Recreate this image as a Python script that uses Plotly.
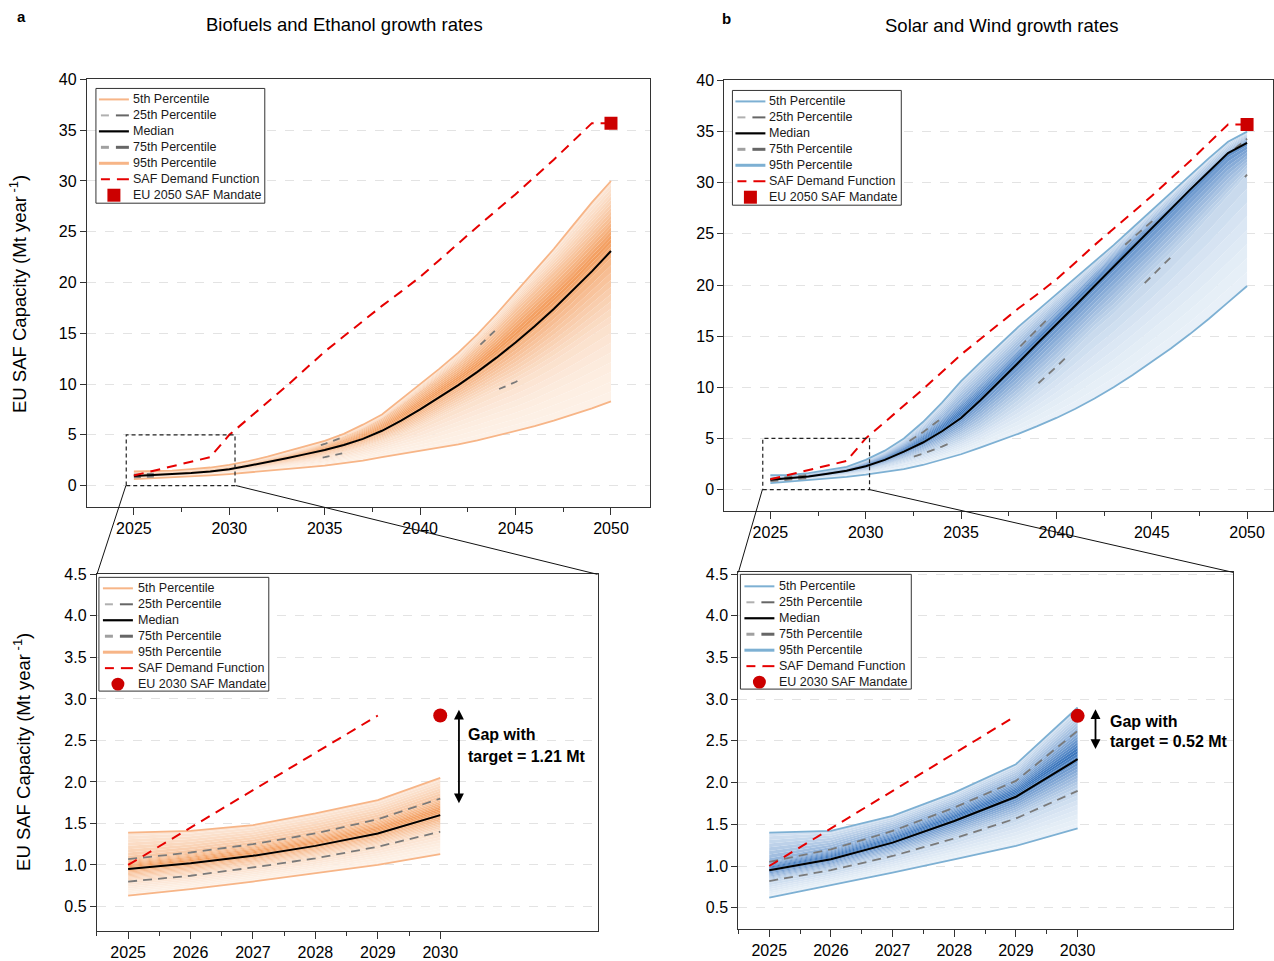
import plotly.graph_objects as go

W, H = 1274, 961

# ---------------- data ----------------
years = list(range(2025, 2051))
n_zoom = 6  # 2025..2030 shown in the zoomed panels

bio_p5 = [0.63, 0.71, 0.80, 0.90, 1.00, 1.13, 1.28, 1.45, 1.62, 1.80, 1.97, 2.20, 2.45, 2.80, 3.10,
          3.38, 3.70, 4.05, 4.45, 4.90, 5.35, 5.85, 6.40, 7.00, 7.60, 8.30]
bio_p25 = [0.80, 0.87, 0.97, 1.08, 1.22, 1.40, 1.62, 1.88, 2.15, 2.45, 2.80, 3.20, 3.70, 4.30, 5.00,
           5.80, 6.70, 7.60, 8.50, 9.40, 10.2, 11.2, 12.3, 13.5, 14.8, 16.0]
bio_p50 = [0.95, 1.02, 1.11, 1.23, 1.38, 1.60, 1.95, 2.30, 2.70, 3.10, 3.50, 4.00, 4.60, 5.40, 6.40,
           7.50, 8.70, 9.90, 11.2, 12.6, 14.1, 15.7, 17.4, 19.2, 21.1, 23.1]
bio_p75 = [1.07, 1.15, 1.25, 1.38, 1.55, 1.80, 2.15, 2.55, 3.00, 3.50, 4.10, 4.80, 5.60, 6.60, 7.90,
           9.30, 10.6, 12.0, 13.6, 15.4, 17.4, 19.2, 21.0, 22.9, 24.9, 27.0]
bio_p95 = [1.39, 1.41, 1.48, 1.62, 1.78, 2.05, 2.40, 2.85, 3.35, 3.85, 4.40, 5.10, 6.00, 7.00, 8.50,
           10.0, 11.5, 13.1, 14.9, 16.9, 19.0, 21.1, 23.3, 25.6, 27.9, 30.0]

sw_p5 = [0.62, 0.77, 0.92, 1.08, 1.24, 1.45, 1.70, 2.00, 2.40, 2.90, 3.45, 4.10, 4.75, 5.45, 6.20,
         7.00, 7.90, 8.90, 10.0, 11.2, 12.5, 13.8, 15.2, 16.7, 18.3, 19.9]
sw_p25 = [0.82, 0.95, 1.12, 1.33, 1.57, 1.90, 2.35, 2.90, 3.50, 4.20, 5.00, 6.00, 7.30, 8.70, 10.3,
          12.0, 13.8, 15.6, 17.2, 19.0, 20.8, 22.7, 24.6, 26.6, 28.7, 30.8]
sw_p50 = [0.95, 1.08, 1.28, 1.54, 1.83, 2.28, 2.90, 3.70, 4.60, 5.70, 7.00, 8.70, 10.5, 12.4, 14.3,
          16.1, 18.0, 19.9, 21.8, 23.7, 25.5, 27.4, 29.3, 31.1, 32.9, 33.9]
sw_p75 = [1.05, 1.20, 1.42, 1.70, 2.02, 2.62, 3.40, 4.40, 5.60, 7.00, 8.70, 10.3, 12.0, 13.8, 15.7,
          17.5, 19.4, 21.2, 22.9, 24.6, 26.2, 27.8, 29.5, 31.2, 32.8, 34.3]
sw_p95 = [1.40, 1.42, 1.60, 1.88, 2.22, 2.90, 3.80, 5.00, 6.60, 8.50, 10.6, 12.4, 14.2, 15.9, 17.5,
          19.1, 20.7, 22.3, 23.9, 25.6, 27.3, 29.0, 30.7, 32.4, 34.0, 35.0]

saf_demand = [1.00, 1.45, 1.90, 2.35, 2.80, 5.00, 6.60, 8.20, 9.80, 11.5, 13.2, 14.7, 16.2, 17.7, 19.1,
              20.55, 22.2, 23.9, 25.5, 27.1, 28.7, 30.4, 32.1, 33.9, 35.7, 35.7]
n_demand_zoom = 5  # zoomed panels show the demand function up to 2029

mandate_2050_year, mandate_2050 = 2050, 35.7
mandate_2030_year, mandate_2030 = 2030, 2.8
gap_bio = 1.21
gap_sw = 0.52

legend_labels = ["5th Percentile", "25th Percentile", "Median", "75th Percentile",
                 "95th Percentile", "SAF Demand Function"]

# ---------------- style ----------------
FONT = "Liberation Sans, Arial, sans-serif"
RED = "#E60000"
MARK = "#CC0000"
GRAY = "#7a7a7a"
ORANGE_LINE = "#F7B587"
BLUE_LINE = "#7DB0D3"
ORANGE_LIGHT, ORANGE_DARK = (253, 241, 231), (243, 156, 92)
BLUE_LIGHT, BLUE_DARK = (232, 240, 248), (55, 115, 188)

# vertical calibration of the rendered page
YOFF, YS = 9.37, 0.9866


def pxx(x):
    return x / W


def pxy(y):
    return 1 - ((y - YOFF) / YS) / H


def blend(c0, c1, t):
    return "rgb(%d,%d,%d)" % tuple(round(a + (b - a) * t) for a, b in zip(c0, c1))


def band_curves(p5, p25, p50, p75, p95):
    levels = [5, 25, 50, 75, 95]
    series = [p5, p25, p50, p75, p95]
    curves = []
    for k in range(37):
        p = 5 + 2.5 * k
        if p < 25:
            i = 0
        elif p < 50:
            i = 1
        elif p < 75:
            i = 2
        else:
            i = 3
        lo, hi = series[i], series[i + 1]
        t = (p - levels[i]) / (levels[i + 1] - levels[i])
        curves.append((p, [a + (b - a) * t for a, b in zip(lo, hi)]))
    return curves


fig = go.Figure()


def add_panel(xa, ya, x, p5, p25, p50, p75, p95, light, dark, linecol, dash_iqr, zoom, demand_n):
    curves = band_curves(p5, p25, p50, p75, p95)
    for k, (p, c) in enumerate(curves):
        if k == 0:
            fig.add_trace(go.Scatter(x=x, y=c, mode="lines", line=dict(width=0), showlegend=False,
                                     hoverinfo="skip", xaxis=xa, yaxis=ya))
        else:
            mid = p - 1.25
            t = max(0.0, 1 - abs(mid - 57) / 52)
            fig.add_trace(go.Scatter(x=x, y=c, mode="lines", line=dict(width=0), fill="tonexty",
                                     fillcolor=blend(light, dark, t ** 1.7), showlegend=False,
                                     hoverinfo="skip", xaxis=xa, yaxis=ya))
    fig.add_trace(go.Scatter(x=x, y=p5, mode="lines", name="5th Percentile",
                             line=dict(color=linecol, width=1.8), showlegend=False, xaxis=xa, yaxis=ya))
    fig.add_trace(go.Scatter(x=x, y=p95, mode="lines", name="95th Percentile",
                             line=dict(color=linecol, width=1.8), showlegend=False, xaxis=xa, yaxis=ya))
    fig.add_trace(go.Scatter(x=x, y=p25, mode="lines", name="25th Percentile",
                             line=dict(color=GRAY, width=1.8, dash=dash_iqr), showlegend=False,
                             xaxis=xa, yaxis=ya))
    fig.add_trace(go.Scatter(x=x, y=p75, mode="lines", name="75th Percentile",
                             line=dict(color=GRAY, width=1.8, dash=dash_iqr), showlegend=False,
                             xaxis=xa, yaxis=ya))
    fig.add_trace(go.Scatter(x=x, y=p50, mode="lines", name="Median",
                             line=dict(color="black", width=2), showlegend=False, xaxis=xa, yaxis=ya))
    fig.add_trace(go.Scatter(x=years[:demand_n], y=saf_demand[:demand_n], mode="lines",
                             name="SAF Demand Function",
                             line=dict(color=RED, width=2, dash="10px,7px"), showlegend=False,
                             xaxis=xa, yaxis=ya))
    if zoom:
        fig.add_trace(go.Scatter(x=[mandate_2030_year], y=[mandate_2030], mode="markers",
                                 name="EU 2030 SAF Mandate",
                                 marker=dict(symbol="circle", size=14, color=MARK), showlegend=False,
                                 xaxis=xa, yaxis=ya))
    else:
        fig.add_trace(go.Scatter(x=[mandate_2050_year], y=[mandate_2050], mode="markers",
                                 name="EU 2050 SAF Mandate",
                                 marker=dict(symbol="square", size=13, color=MARK), showlegend=False,
                                 xaxis=xa, yaxis=ya))


add_panel("x", "y", years, bio_p5, bio_p25, bio_p50, bio_p75, bio_p95,
          ORANGE_LIGHT, ORANGE_DARK, ORANGE_LINE, "7px,6px,7px,170px", False, len(years))
add_panel("x2", "y2", years, sw_p5, sw_p25, sw_p50, sw_p75, sw_p95,
          BLUE_LIGHT, BLUE_DARK, BLUE_LINE, "8px,6px,8px,6px,8px,110px", False, len(years))
zy = years[:n_zoom]
add_panel("x3", "y3", zy, bio_p5[:n_zoom], bio_p25[:n_zoom], bio_p50[:n_zoom], bio_p75[:n_zoom],
          bio_p95[:n_zoom], ORANGE_LIGHT, ORANGE_DARK, ORANGE_LINE, "9px,6px", True, n_demand_zoom)
add_panel("x4", "y4", zy, sw_p5[:n_zoom], sw_p25[:n_zoom], sw_p50[:n_zoom], sw_p75[:n_zoom],
          sw_p95[:n_zoom], BLUE_LIGHT, BLUE_DARK, BLUE_LINE, "9px,6px", True, n_demand_zoom)

# ---------------- axes ----------------
tickfont = dict(family=FONT, size=16, color="black")


def xaxis_cfg(domain, rng, tickvals, minor_vals):
    return dict(domain=domain, range=rng, tickvals=tickvals, ticktext=[str(v) for v in tickvals],
                ticks="outside", ticklen=7, tickwidth=1.2, tickcolor="#333", showline=True,
                linecolor="#333", linewidth=1.3, mirror=True, showgrid=False, zeroline=False,
                tickfont=tickfont,
                minor=dict(tickvals=minor_vals, ticks="outside", ticklen=4, tickwidth=1.2,
                           tickcolor="#333", showgrid=False))


def yaxis_cfg(domain, rng, tickvals, fmt):
    return dict(domain=domain, range=rng, tickvals=tickvals, ticktext=[fmt % v for v in tickvals],
                ticks="outside", ticklen=6, tickwidth=1.2, tickcolor="#333", showline=True,
                linecolor="#333", linewidth=1.3, mirror=True, showgrid=True, gridcolor="#e3e3e3",
                griddash="dash", gridwidth=1, zeroline=False, tickfont=tickfont)


big_ticks = [2025, 2030, 2035, 2040, 2045, 2050]
big_minor = [2022.5, 2027.5, 2032.5, 2037.5, 2042.5, 2047.5, 2052.5]
small_ticks = [2025, 2026, 2027, 2028, 2029, 2030]
small_minor = [2024.5, 2025.5, 2026.5, 2027.5, 2028.5, 2029.5]

fig.update_layout(
    xaxis=xaxis_cfg([pxx(87), pxx(651)], [2022.54, 2052.07], big_ticks, big_minor) | dict(anchor="y"),
    yaxis=yaxis_cfg([pxy(509), pxy(81)], [-2.06, 40], list(range(0, 41, 5)), "%d") | dict(anchor="x"),
    xaxis2=xaxis_cfg([pxx(725), 1.0], [2022.59, 2051.36], big_ticks, big_minor) | dict(anchor="y2"),
    yaxis2=yaxis_cfg([pxy(513), pxy(82)], [-2.05, 40], list(range(0, 41, 5)), "%d") | dict(anchor="x2"),
    xaxis3=xaxis_cfg([pxx(97), pxx(598)], [2024.5, 2032.52], small_ticks, small_minor) | dict(anchor="y3"),
    yaxis3=yaxis_cfg([pxy(934), pxy(577)], [0.21, 4.5], [0.5 * k for k in range(1, 10)], "%.1f") | dict(anchor="x3"),
    xaxis4=xaxis_cfg([pxx(739), pxx(1234)], [2024.5, 2032.52], small_ticks, small_minor) | dict(anchor="y4"),
    yaxis4=yaxis_cfg([pxy(932), pxy(575)], [0.25, 4.52], [0.5 * k for k in range(1, 10)], "%.1f") | dict(anchor="x4"),
)

shapes = []
annots = []

# zoom rectangles (data coords) and connector lines (paper coords)
shapes.append(dict(type="rect", xref="x", yref="y", x0=2024.6, x1=2030.3, y0=0, y1=5,
                   line=dict(color="#222", width=1.2, dash="4px,3px")))
shapes.append(dict(type="rect", xref="x2", yref="y2", x0=2024.6, x1=2030.2, y0=0, y1=5,
                   line=dict(color="#222", width=1.2, dash="4px,3px")))
for (a, b, c, d) in [(126, 488, 97, 577), (236, 488, 598, 577), (763, 492, 739, 575), (870, 492, 1234, 575)]:
    shapes.append(dict(type="line", xref="paper", yref="paper", x0=pxx(a), y0=pxy(b), x1=pxx(c), y1=pxy(d),
                       line=dict(color="#111", width=1)))


# ---------------- manual legends ----------------
def legend(box, row0, text_x, lx0, lx1, linecol, mandate_label, mandate_kind):
    x0, y0, x1, y1 = box
    shapes.append(dict(type="rect", xref="paper", yref="paper", x0=pxx(x0), x1=pxx(x1), y0=pxy(y1), y1=pxy(y0),
                       line=dict(color="#333", width=1), fillcolor="white", layer="above"))
    rows = [row0 + 16 * i for i in range(7)]
    labels = legend_labels + [mandate_label]
    mid = (lx0 + lx1) / 2

    def seg(xa, xb, y, col, w):
        shapes.append(dict(type="line", xref="paper", yref="paper", x0=pxx(xa), x1=pxx(xb), y0=pxy(y), y1=pxy(y),
                           line=dict(color=col, width=w), layer="above"))

    seg(lx0, lx1, rows[0], linecol, 2)
    seg(lx0 + 2, lx0 + 10, rows[1], "#b0b0b0", 2)
    seg(lx0 + 17, lx1, rows[1], "#666", 2)
    seg(lx0, lx1, rows[2], "black", 2.2)
    seg(lx0 + 2, lx0 + 10, rows[3], "#a0a0a0", 3)
    seg(lx0 + 17, lx1, rows[3], "#666", 3)
    seg(lx0, lx1, rows[4], linecol, 3)
    seg(lx0 + 2, lx0 + 11, rows[5], RED, 2)
    seg(lx0 + 18, lx1, rows[5], RED, 2)
    r = 6.5
    shapes.append(dict(type="circle" if mandate_kind == "circle" else "rect", xref="paper", yref="paper",
                       x0=pxx(mid - r), x1=pxx(mid + r), y0=pxy(rows[6] + r), y1=pxy(rows[6] - r),
                       line=dict(width=0), fillcolor=MARK, layer="above"))
    for lab, ry in zip(labels, rows):
        annots.append(dict(xref="paper", yref="paper", x=pxx(text_x), y=pxy(ry), text=lab, showarrow=False,
                           xanchor="left", yanchor="middle", font=dict(family=FONT, size=12.5, color="#1a1a1a")))


legend((96, 90, 265, 205), 101, 131, 99, 129, ORANGE_LINE, "EU 2050 SAF Mandate", "square")
legend((733, 92, 902, 207), 103, 768, 736, 766, BLUE_LINE, "EU 2050 SAF Mandate", "square")
legend((99, 580, 269, 694), 591, 136, 103, 133, ORANGE_LINE, "EU 2030 SAF Mandate", "circle")
legend((741, 577, 912, 692), 589, 778, 745, 775, BLUE_LINE, "EU 2030 SAF Mandate", "circle")

# ---------------- gap arrows & text ----------------
for xa, ya, xv, ytop, ybot in [("x3", "y3", 2030.3, 2.87, 2.87 - gap_bio - 0.02),
                               ("x4", "y4", 2030.29, 2.88, 2.88 - gap_sw - 0.06)]:
    annots.append(dict(xref=xa, yref=ya, axref=xa, ayref=ya, x=xv, y=ytop, ax=xv, ay=ybot, text=" ",
                       showarrow=True, arrowhead=2, arrowside="end+start", arrowsize=1.1, arrowwidth=1.8,
                       arrowcolor="black", startarrowhead=2, startarrowsize=1.1))

bold16 = dict(family=FONT, size=16, color="black")
annots += [
    dict(xref="paper", yref="paper", x=pxx(466), y=pxy(738), text="<b>Gap with</b>", showarrow=False,
         xanchor="left", yanchor="middle", font=bold16),
    dict(xref="paper", yref="paper", x=pxx(466), y=pxy(760), text="<b>target = %.2f Mt</b>" % gap_bio,
         showarrow=False, xanchor="left", yanchor="middle", font=bold16),
    dict(xref="paper", yref="paper", x=pxx(1109), y=pxy(724), text="<b>Gap with</b>", showarrow=False,
         xanchor="left", yanchor="middle", font=bold16),
    dict(xref="paper", yref="paper", x=pxx(1109), y=pxy(745), text="<b>target = %.2f Mt</b>" % gap_sw,
         showarrow=False, xanchor="left", yanchor="middle", font=bold16),
]

# titles, panel letters, y titles
title_font = dict(family=FONT, size=18.5, color="black")
annots += [
    dict(xref="paper", yref="paper", x=pxx(345), y=pxy(26), text="Biofuels and Ethanol growth rates",
         showarrow=False, xanchor="center", yanchor="middle", font=title_font),
    dict(xref="paper", yref="paper", x=pxx(1002), y=pxy(27), text="Solar and Wind growth rates",
         showarrow=False, xanchor="center", yanchor="middle", font=title_font),
    dict(xref="paper", yref="paper", x=pxx(22), y=pxy(18), text="<b>a</b>", showarrow=False,
         xanchor="center", yanchor="middle", font=dict(family=FONT, size=15, color="black")),
    dict(xref="paper", yref="paper", x=pxx(727), y=pxy(20), text="<b>b</b>", showarrow=False,
         xanchor="center", yanchor="middle", font=dict(family=FONT, size=15, color="black")),
    dict(xref="paper", yref="paper", x=pxx(18), y=pxy(296), text="EU SAF Capacity (Mt year<sup> -1</sup>)",
         textangle=-90, showarrow=False, xanchor="center", yanchor="middle", font=title_font),
    dict(xref="paper", yref="paper", x=pxx(22), y=pxy(755), text="EU SAF Capacity (Mt year<sup> -1</sup>)",
         textangle=-90, showarrow=False, xanchor="center", yanchor="middle", font=title_font),
]

fig.update_layout(
    width=W, height=H, margin=dict(l=0, r=0, t=0, b=0),
    paper_bgcolor="white", plot_bgcolor="white", showlegend=False,
    font=dict(family=FONT, color="black"),
    shapes=shapes, annotations=annots,
)

post = ("document.body.style.margin='0px';document.body.style.padding='0px';"
        "document.documentElement.style.margin='0px';"
        "var g=document.querySelector('.plotly-graph-div');"
        "var p=g.parentElement;p.style.position='absolute';p.style.left='0px';p.style.top='0px';"
        "p.style.margin='0px';")
fig.write_html("out.html", post_script=post, config={"displayModeBar": False})
